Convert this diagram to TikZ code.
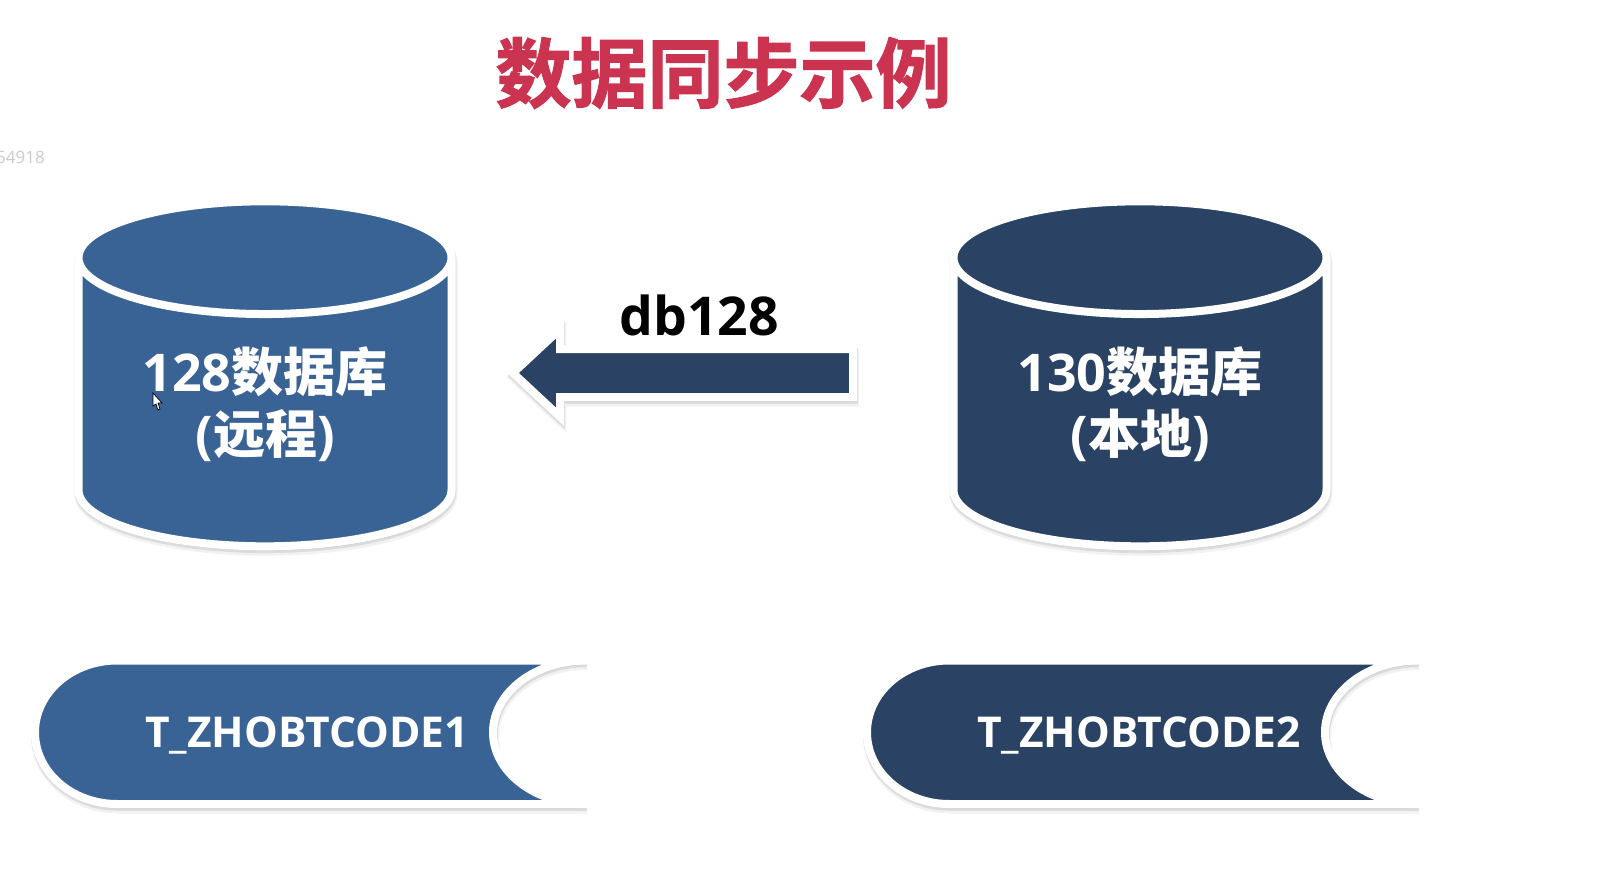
\documentclass[tikz,border=0pt]{standalone}
\usepackage{fontspec}
\setmainfont{Open Sans}
\newfontfamily\cjk{Noto Sans CJK SC}
\newfontfamily\cjktitle[FakeBold=1.5]{Noto Sans CJK SC Bold}
\usetikzlibrary{shapes.geometric,shapes.arrows,shadows}
\definecolor{lightblue}{HTML}{3A6395}
\definecolor{darkblue}{HTML}{2A4264}
\definecolor{titlered}{HTML}{CB3450}

\begin{document}
\begin{tikzpicture}[
    x=1pt, y=-1pt,
    softshadow/.style={
        drop shadow={shadow xshift=1pt, shadow yshift=-4.5pt, opacity=.05, fill=black, draw=black, line width=10pt},
        drop shadow={shadow xshift=.5pt, shadow yshift=-2.5pt, opacity=.09, fill=black, draw=black, line width=8.5pt}
    },
    db/.style={cylinder, shape border rotate=90, aspect=.46, minimum width=373pt, minimum height=345pt,
        draw=white, line width=8pt, outer sep=0pt, inner sep=0pt, softshadow,
        text=white, align=center, font=\bfseries\fontsize{52}{62}\selectfont},
    banner/.style={draw=white, line width=8pt, line join=round, softshadow},
    tablename/.style={text=white, font=\bfseries\fontsize{42.5}{50}\selectfont}
]
\useasboundingbox (0,0) rectangle (1598,877);
\fill[white] (0,0) rectangle (1598,877);

% title and stray id
\node[text=titlered, font=\fontsize{76}{80}\selectfont] (title) at (723.5,73) {\cjktitle 数据同步示例};
\node[anchor=east, inner sep=0pt, text=black!20, font=\fontsize{17}{20}\selectfont] (stamp) at (45,157) {54918};

% databases
\node[db, fill=lightblue] (remote) at (265,404) {128{\cjk 数据库}\\({\cjk 远程})};
\node[db, fill=darkblue, right of=remote, node distance=875pt] (local) {130{\cjk 数据库}\\({\cjk 本地})};

% sync arrow
\node[single arrow, shape border rotate=180, anchor=tip, minimum height=340pt,
    single arrow head extend=20pt, single arrow tip angle=86, inner xsep=0pt, inner ysep=20pt, outer sep=0pt,
    draw=white, line width=8pt, fill=darkblue, softshadow] (sync) at (513,373) {};
\node[font=\bfseries\fontsize{53.5}{56}\selectfont] (synclabel) at (699,315) {db128};

% table ribbons
\draw[banner, fill=lightblue] (117,660.5) .. controls (72,660.5) and (35,692.6) .. (35,732.25)
    .. controls (35,772) and (72,804) .. (117,804) -- (586,804)
    .. controls (535,804) and (493,772) .. (493,732.25)
    .. controls (493,692.6) and (535,660.5) .. (586,660.5) -- cycle;
\node[tablename] (table1) at (307,735) {T\_ZHOBTCODE1};

\draw[banner, fill=darkblue, shift={(832,0)}] (117,660.5) .. controls (72,660.5) and (35,692.6) .. (35,732.25)
    .. controls (35,772) and (72,804) .. (117,804) -- (586,804)
    .. controls (535,804) and (493,772) .. (493,732.25)
    .. controls (493,692.6) and (535,660.5) .. (586,660.5) -- cycle;
\node[tablename, right of=table1, node distance=832pt] (table2) {T\_ZHOBTCODE2};

% mouse pointer
\draw[fill=white, line width=.7pt] (153,393) -- (153,406) -- (156,404) -- (158,410) -- (160,409) -- (158,403) -- (162,403) -- cycle;

\end{tikzpicture}
\end{document}
